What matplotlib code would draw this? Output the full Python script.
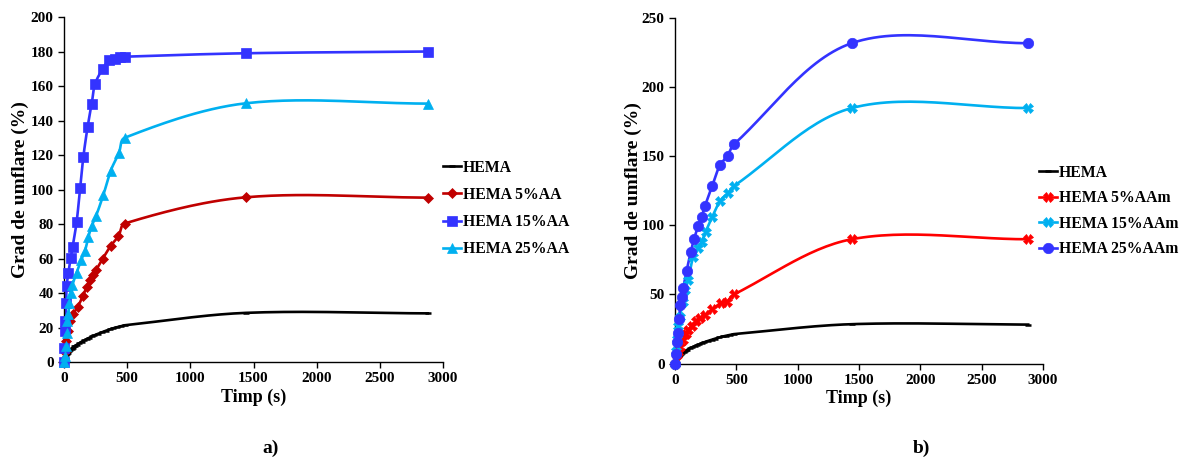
import numpy as np
import matplotlib.pyplot as plt

plt.rcParams['font.family'] = ['Liberation Serif', 'DejaVu Serif']
plt.rcParams['font.weight'] = 'bold'

### data ###
# HEMA (same in both panels)
t_hema = [0, 5, 10, 15, 20, 25, 30, 40, 50, 60, 70, 80, 90, 100, 120, 140, 160, 180,
          200, 220, 240, 270, 300, 330, 360, 390, 420, 450, 480, 1440, 2880]
y_hema = [0, 2.0, 3.0, 3.8, 4.5, 5.0, 5.5, 6.3, 7.1, 7.8, 8.4, 9.0, 9.5, 10.0, 11.0, 11.8, 12.6, 13.4,
          14.1, 14.8, 15.5, 16.4, 17.3, 18.1, 18.9, 19.6, 20.2, 20.8, 21.3, 28.5, 28.2]

# panel a) - HEMA / AA
t_aa5 = [0, 5, 15, 30, 48, 74, 108, 148, 180, 206, 233, 254, 307, 370, 431, 480, 1440, 2880]
y_aa5 = [0, 6, 12, 18, 23.5, 28, 32, 38, 43.7, 47.5, 50.4, 53.3, 60, 67.4, 73, 80.3, 95.5, 95.3]

t_aa15 = [0, 2, 5, 10, 16, 21, 34, 53, 68, 100, 127, 153, 187, 219, 245, 306, 359, 404, 443, 480, 1440, 2880]
y_aa15 = [0, 8, 17.7, 24, 34, 44, 51.6, 60.3, 66.9, 81.3, 101, 119, 136.4, 149.6, 161, 170, 175, 175.6, 176.6, 177, 179, 180]

t_aa25 = [0, 10, 16, 21, 26, 34, 42, 53, 66, 100, 135, 166, 193, 219, 253, 311, 370, 435, 480, 1440, 2880]
y_aa25 = [0, 3.3, 9, 16.8, 23.5, 28, 34, 40, 44.6, 51.8, 59, 64.5, 72.6, 78.8, 84.6, 96.8, 111, 121.3, 130, 150, 149.8]

# panel b) - HEMA / AAm
t_aam5 = [0, 14, 27, 41, 62, 87, 108, 136, 171, 204, 244, 304, 375, 421, 480, 1440, 2880]
y_aam5 = [0, 6.2, 8.6, 12.3, 17, 21.5, 24.3, 27.2, 31, 33.2, 35.1, 39.2, 44, 44.8, 50, 90, 90]

t_aam15 = [0, 8, 19, 27, 41, 62, 82, 108, 149, 190, 217, 250, 304, 367, 429, 480, 1440, 2880]
y_aam15 = [0, 9, 17.6, 27, 34, 44.8, 53, 60.5, 77.3, 83.4, 88.2, 95.4, 106.3, 117.7, 123.2, 128.5, 185, 185]

t_aam25 = [0, 8, 14, 27, 35, 41, 55, 68, 95, 128, 155, 190, 217, 244, 304, 367, 429, 480, 1440, 2880]
y_aam25 = [0, 7, 15.8, 21.8, 31.9, 42.3, 48.4, 55, 67.2, 80.5, 90, 99.8, 106.3, 114, 128.7, 143.7, 150.5, 158.7, 232, 232]


### smoothed line, Bezier with chord-length scaled tangents (screen space) ###
def smooth(xs, ys, sx, sy, n=30):
    p = np.column_stack([np.asarray(xs) * sx, np.asarray(ys) * sy]).astype(float)
    pts = np.vstack([p[0], p, p[-1]])
    out = []
    s = np.linspace(0, 1, n)[:, None]
    for i in range(1, len(pts) - 2):
        p0, p1, p2, p3 = pts[i - 1], pts[i], pts[i + 1], pts[i + 2]
        d01 = np.hypot(*(p1 - p0))
        d12 = np.hypot(*(p2 - p1))
        d23 = np.hypot(*(p3 - p2))
        c1 = p1 + (p2 - p0) * d12 / (3.0 * max(d01 + d12, 1e-9))
        c2 = p2 - (p3 - p1) * d12 / (3.0 * max(d12 + d23, 1e-9))
        seg = ((1 - s) ** 3) * p1 + 3 * ((1 - s) ** 2) * s * c1 + 3 * (1 - s) * s ** 2 * c2 + s ** 3 * p2
        out.append(seg)
    seg = np.vstack(out)
    return seg[:, 0] / sx, seg[:, 1] / sy


def series(ax, t, y, color, marker, ms, label, sx, sy):
    cx, cy = smooth(t, y, sx, sy)
    mew = 1.8 if marker == '_' else 0.5
    ax.plot(cx, cy, color=color, lw=1.9, zorder=2, clip_on=False)
    ax.plot(t, y, linestyle='none', marker=marker, ms=ms, color=color,
            mec=color, mew=mew, zorder=3, clip_on=False)
    # legend proxy
    ax.plot([], [], color=color, lw=1.9, marker=marker, ms=ms, mec=color,
            mew=mew, label=label)


def style(ax, ymax, ystep, ylabpad):
    ax.set_xlim(0, 3000)
    ax.set_ylim(0, ymax)
    ax.set_xticks(np.arange(0, 3001, 500))
    ax.set_yticks(np.arange(0, ymax + 1, ystep))
    ax.spines['top'].set_visible(False)
    ax.spines['right'].set_visible(False)
    for sp in ('left', 'bottom'):
        ax.spines[sp].set_linewidth(1.0)
    ax.tick_params(direction='out', length=4, width=1, labelsize=11)
    for lab in ax.get_xticklabels() + ax.get_yticklabels():
        lab.set_fontweight('bold')
    ax.set_xlabel('Timp (s)', fontsize=13, fontweight='bold', labelpad=2)
    ax.set_ylabel('Grad de umflare (%)', fontsize=14, fontweight='bold', labelpad=ylabpad)


fig = plt.figure(figsize=(11.9, 4.59), dpi=100)

### panel a ###
ax1 = fig.add_axes([0.0538, 0.2113, 0.3185, 0.7516])
sx1, sy1 = 379 / 3000, 345 / 200
series(ax1, t_hema, y_hema, 'black', '_', 5, 'HEMA', sx1, sy1)
series(ax1, t_aa5, y_aa5, '#C00000', 'D', 5.5, 'HEMA 5%AA', sx1, sy1)
series(ax1, t_aa15, y_aa15, '#3333FF', 's', 6.5, 'HEMA 15%AA', sx1, sy1)
series(ax1, t_aa25, y_aa25, '#00B0F0', '^', 7, 'HEMA 25%AA', sx1, sy1)
style(ax1, 200, 20, 1.5)
ax1.legend(loc='center left', bbox_to_anchor=(1.0, 0.445), frameon=False,
           prop={'size': 11.3, 'weight': 'bold'}, handlelength=1.15,
           handletextpad=0.1, labelspacing=0.72, borderaxespad=0, borderpad=0)

### panel b ###
ax2 = fig.add_axes([0.5672, 0.208, 0.3092, 0.752])
sx2, sy2 = 368 / 3000, 345 / 250
series(ax2, t_hema, y_hema, 'black', '_', 5, 'HEMA', sx2, sy2)
series(ax2, t_aam5, y_aam5, '#FF0000', 'X', 6.5, 'HEMA 5%AAm', sx2, sy2)
series(ax2, t_aam15, y_aam15, '#00B0F0', 'X', 6.5, 'HEMA 15%AAm', sx2, sy2)
series(ax2, t_aam25, y_aam25, '#3333FF', 'o', 7.5, 'HEMA 25%AAm', sx2, sy2)
style(ax2, 250, 50, 0)
ax2.legend(loc='center left', bbox_to_anchor=(0.99, 0.442), frameon=False,
           prop={'size': 11.3, 'weight': 'bold'}, handlelength=1.15,
           handletextpad=0.1, labelspacing=0.6, borderaxespad=0, borderpad=0)

fig.text(0.227, 0.013, 'a)', fontsize=14, fontweight='bold', ha='center')
fig.text(0.774, 0.013, 'b)', fontsize=14, fontweight='bold', ha='center')

fig.savefig('out.png', dpi=100)
